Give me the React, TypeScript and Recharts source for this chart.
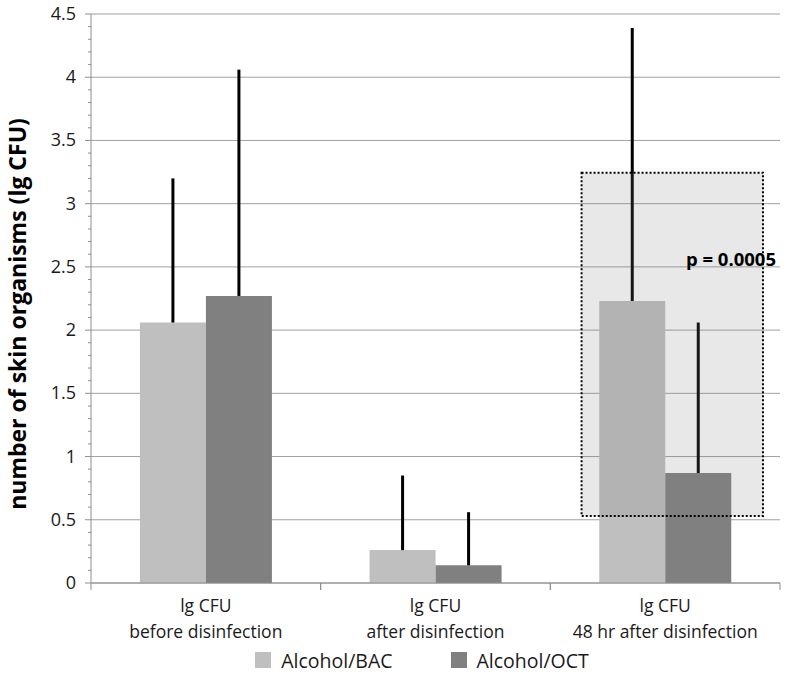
import { BarChart, Bar, XAxis, YAxis, CartesianGrid, ErrorBar, ReferenceArea, Legend, Label } from "recharts";

const categories = [
  ["lg CFU", "before disinfection"],
  ["lg CFU", "after disinfection"],
  ["lg CFU", "48 hr after disinfection"],
];
const bacValues = [2.06, 0.26, 2.23];
const octValues = [2.27, 0.14, 0.87];
const bacErrors = [1.14, 0.59, 2.16];
const octErrors = [1.79, 0.42, 1.19];
const majorTicks = [0, 0.5, 1, 1.5, 2, 2.5, 3, 3.5, 4, 4.5];
const minorTicks = majorTicks.flatMap((t) => (t < 4.5 ? [0, 1, 2, 3, 4].map((k) => Math.round(t * 10 + k) / 10) : [t]));
const Y_MAX = 4.5;
// highlighted comparison box (third group), y range in lg CFU
const highlight = { category: 2, y1: 0.53, y2: 3.245, label: "p = 0.0005" };

const data = categories.map((c, i) => ({
  name: c.join("\n"),
  bac: bacValues[i],
  oct: octValues[i],
  bacErr: [0, bacErrors[i]],
  octErr: [0, octErrors[i]],
}));

const FONT = "'Open Sans', Lato, sans-serif";
const AXIS = "#8e8e8e";

const YTick = ({ x, y, payload }: any) => {
  const major = majorTicks.includes(payload.value);
  return (
    <g>
      <line x1={x - (major ? 6 : 3)} x2={x} y1={y} y2={y} stroke={AXIS} />
      {major && (
        <text x={x - 15} y={y} dy={6} textAnchor="end" fontSize={18} fill="#1a1a1a" fontFamily={FONT}>
          {payload.value}
        </text>
      )}
    </g>
  );
};

const XTick = ({ x, y, payload }: any) => {
  const half = payload.offset || 229.7 / 2;
  const [l1, l2] = String(payload.value).split("\n");
  return (
    <g>
      <line x1={x - half} x2={x - half} y1={y} y2={y + 7} stroke={AXIS} />
      <line x1={x + half} x2={x + half} y1={y} y2={y + 7} stroke={AXIS} />
      <text x={x} y={y + 29} textAnchor="middle" fontSize={17.5} fill="#1a1a1a" fontFamily={FONT}>
        {l1}
      </text>
      <text x={x} y={y + 55} textAnchor="middle" fontSize={17.5} fill="#1a1a1a" fontFamily={FONT}>
        {l2}
      </text>
    </g>
  );
};

const LegendBox = () => (
  <div
    style={{
      width: 786,
      height: 50,
      display: "flex",
      alignItems: "center",
      justifyContent: "center",
      paddingLeft: 58,
      boxSizing: "border-box",
      gap: 58,
      fontFamily: FONT,
      fontSize: 19.5,
      color: "#1a1a1a",
    }}
  >
    {[
      { label: "Alcohol/BAC", color: "#bfbfbf" },
      { label: "Alcohol/OCT", color: "#808080" },
    ].map((it) => (
      <div key={it.label} style={{ display: "flex", alignItems: "center" }}>
        <span style={{ width: 16, height: 16, background: it.color, marginRight: 10, display: "inline-block" }} />
        {it.label}
      </div>
    ))}
  </div>
);

// dotted box drawn inside the category band, slightly inset
const HighlightShape = ({ x, y, width, height }: any) => (
  <rect
    x={x + width * 0.136}
    y={y}
    width={width * 0.79}
    height={height}
    fill="#808080"
    fillOpacity={0.18}
    stroke="#000"
    strokeWidth={2}
    strokeDasharray="2 2"
  />
);

export default function App() {
  const cat = data[highlight.category].name;
  return (
    <div style={{ position: "absolute", left: 0, top: 0, background: "#fff" }}>
      <BarChart
        width={786}
        height={695}
        data={data}
        margin={{ top: 14, right: 6, left: 0, bottom: 10 }}
        barCategoryGap="21.3%"
        barGap={0}
      >
        <CartesianGrid
          vertical={false}
          stroke="#a0a0a0"
          horizontalCoordinatesGenerator={({ offset }: any) =>
            majorTicks.map((v) => offset.top + offset.height * (1 - v / Y_MAX))
          }
        />
        <XAxis
          dataKey="name"
          height={52}
          axisLine={{ stroke: AXIS }}
          tickLine={false}
          tickSize={0}
          tickMargin={0}
          interval={0}
          tick={<XTick />}
        />
        <YAxis
          width={91}
          domain={[0, Y_MAX]}
          ticks={minorTicks}
          interval={0}
          axisLine={{ stroke: AXIS }}
          tickLine={false}
          tickSize={0}
          tickMargin={0}
          tick={<YTick />}
        >
          <Label
            content={() => (
              <text
                x={26}
                y={314}
                transform="rotate(-90 26 314)"
                textAnchor="middle"
                fontSize={23}
                fontWeight="bold"
                fill="#000"
                fontFamily={FONT}
              >
                number of skin organisms (lg CFU)
              </text>
            )}
          />
        </YAxis>
        <Legend verticalAlign="bottom" height={50} wrapperStyle={{ left: 0, width: 786 }} content={<LegendBox />} />
        <Bar dataKey="bac" name="Alcohol/BAC" fill="#bfbfbf" isAnimationActive={false}>
          <ErrorBar dataKey="bacErr" width={0} strokeWidth={3} stroke="#000" direction="y" />
        </Bar>
        <Bar dataKey="oct" name="Alcohol/OCT" fill="#808080" isAnimationActive={false}>
          <ErrorBar dataKey="octErr" width={0} strokeWidth={3} stroke="#000" direction="y" />
        </Bar>
        <ReferenceArea
          x1={cat}
          x2={cat}
          y1={highlight.y1}
          y2={highlight.y2}
          ifOverflow="visible"
          zIndex={400}
          shape={<HighlightShape />}
        >
          <Label
            content={({ viewBox }: any) => (
              <text
                x={viewBox.x + viewBox.width - 4}
                y={viewBox.y + 93}
                textAnchor="end"
                fontSize={18.5}
                fontWeight="bold"
                fill="#000"
                fontFamily={FONT}
              >
                {highlight.label}
              </text>
            )}
          />
        </ReferenceArea>
      </BarChart>
    </div>
  );
}
